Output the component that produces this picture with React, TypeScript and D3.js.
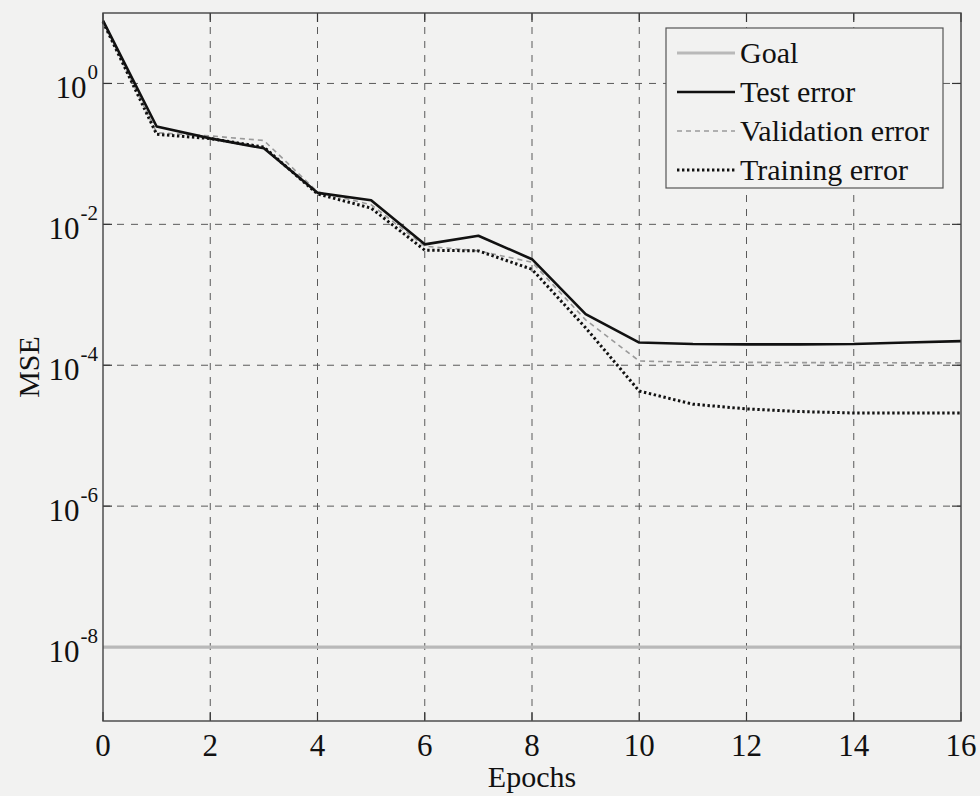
import React from "react";
import * as d3 from "d3";

// Training curves: mean squared error per epoch
const epochs = [0, 1, 2, 3, 4, 5, 6, 7, 8, 9, 10, 11, 12, 13, 14, 15, 16];
const testError = [7.8, 0.245, 0.166, 0.12, 0.028, 0.022, 0.0052, 0.0069, 0.0032, 5.3e-4, 2.1e-4, 2.0e-4, 1.98e-4, 1.98e-4, 2.0e-4, 2.1e-4, 2.2e-4];
const validationError = [7.6, 0.2, 0.18, 0.155, 0.029, 0.019, 0.0049, 0.0042, 0.0029, 4.4e-4, 1.15e-4, 1.1e-4, 1.1e-4, 1.09e-4, 1.09e-4, 1.08e-4, 1.08e-4];
const trainingError = [7.5, 0.19, 0.165, 0.125, 0.027, 0.017, 0.0043, 0.0042, 0.0023, 3.4e-4, 4.3e-5, 2.8e-5, 2.4e-5, 2.2e-5, 2.1e-5, 2.1e-5, 2.1e-5];
const goal = 1e-8;

const xTicks = [0, 2, 4, 6, 8, 10, 12, 14, 16];
const yTickExponents = [0, -2, -4, -6, -8];
const legendLabels = ["Goal", "Test error", "Validation error", "Training error"];

const W = 980;
const H = 796;
const left = 103;
const right = 961;
const top = 13;
const bottom = 721;

const FONT = "'Liberation Serif', 'DejaVu Serif', serif";
const BG = "#f2f2f1";

export default function App() {
  const x = d3.scaleLinear().domain([0, 16]).range([left, right]);
  const y = d3.scaleLog().domain([Math.pow(10, -9.05), 10]).range([bottom, top]);

  const line = d3
    .line<number>()
    .x((_, i) => x(epochs[i]))
    .y((d) => y(d));

  const gridColor = "#5a5a5a";
  const tickLen = 9;

  const legendX = 666;
  const legendY = 28;
  const legendW = 277;
  const legendH = 160;
  const rowY = [53, 92, 131, 170];

  const legendStyles = [
    { stroke: "#b9b9b9", width: 3.2, dash: undefined as string | undefined },
    { stroke: "#111", width: 2.6, dash: undefined },
    { stroke: "#9a9a9a", width: 1.6, dash: "5,4" },
    { stroke: "#111", width: 3, dash: "2.4,2.6" },
  ];

  return (
    <div style={{ position: "fixed", left: 0, top: 0 }}>
      <svg width={W} height={H} style={{ display: "block", background: BG }}>
        <rect x={0} y={0} width={W} height={H} fill={BG} />

        {/* grid */}
        <g stroke={gridColor} strokeWidth={1} strokeDasharray="7,7">
          {xTicks.slice(1, -1).map((t) => (
            <line key={"gx" + t} x1={x(t)} x2={x(t)} y1={top} y2={bottom} />
          ))}
          {yTickExponents.map((e) => (
            <line key={"gy" + e} x1={left} x2={right} y1={y(Math.pow(10, e))} y2={y(Math.pow(10, e))} />
          ))}
        </g>

        {/* inward ticks */}
        <g stroke="#333" strokeWidth={1.2}>
          {xTicks.map((t) => (
            <g key={"tx" + t}>
              <line x1={x(t)} x2={x(t)} y1={bottom} y2={bottom - tickLen} />
              <line x1={x(t)} x2={x(t)} y1={top} y2={top + tickLen} />
            </g>
          ))}
          {yTickExponents.map((e) => (
            <g key={"ty" + e}>
              <line x1={left} x2={left + tickLen} y1={y(Math.pow(10, e))} y2={y(Math.pow(10, e))} />
              <line x1={right} x2={right - tickLen} y1={y(Math.pow(10, e))} y2={y(Math.pow(10, e))} />
            </g>
          ))}
        </g>

        {/* goal line */}
        <line
          x1={left}
          x2={right}
          y1={y(goal)}
          y2={y(goal)}
          stroke="#b9b9b9"
          strokeWidth={3.2}
        />

        {/* error curves */}
        <path d={line(validationError) ?? ""} fill="none" stroke="#9a9a9a" strokeWidth={1.6} strokeDasharray="5,4" />
        <path d={line(trainingError) ?? ""} fill="none" stroke="#111" strokeWidth={3} strokeDasharray="2.4,2.6" />
        <path d={line(testError) ?? ""} fill="none" stroke="#111" strokeWidth={2.6} strokeLinejoin="round" />

        {/* frame */}
        <rect x={left} y={top} width={right - left} height={bottom - top} fill="none" stroke="#444" strokeWidth={1.4} />

        {/* x tick labels */}
        <g fontFamily={FONT} fontSize={31} fill="#111" textAnchor="middle">
          {xTicks.map((t) => (
            <text key={"lx" + t} x={x(t)} y={756}>
              {t}
            </text>
          ))}
        </g>

        {/* y tick labels */}
        <g fontFamily={FONT} fill="#111">
          {yTickExponents.map((e) => (
            <text key={"ly" + e} x={98} y={y(Math.pow(10, e)) + 15} textAnchor="end" fontSize={31}>
              10
              <tspan dx={1} dy={-19} fontSize={21}>
                {e}
              </tspan>
            </text>
          ))}
        </g>

        {/* axis titles */}
        <text x={532} y={787} textAnchor="middle" fontFamily={FONT} fontSize={30} fill="#111">
          Epochs
        </text>
        <text
          transform={`translate(39, ${(top + bottom) / 2}) rotate(-90)`}
          textAnchor="middle"
          fontFamily={FONT}
          fontSize={30}
          fill="#111"
        >
          MSE
        </text>

        {/* legend */}
        <rect x={legendX} y={legendY} width={legendW} height={legendH} fill={BG} stroke="#555" strokeWidth={1.2} />
        {legendLabels.map((lab, i) => (
          <g key={lab}>
            <line
              x1={677}
              x2={735}
              y1={rowY[i]}
              y2={rowY[i]}
              stroke={legendStyles[i].stroke}
              strokeWidth={legendStyles[i].width}
              strokeDasharray={legendStyles[i].dash}
            />
            <text x={740} y={rowY[i] + 10} fontFamily={FONT} fontSize={30} fill="#111">
              {lab}
            </text>
          </g>
        ))}
      </svg>
    </div>
  );
}
